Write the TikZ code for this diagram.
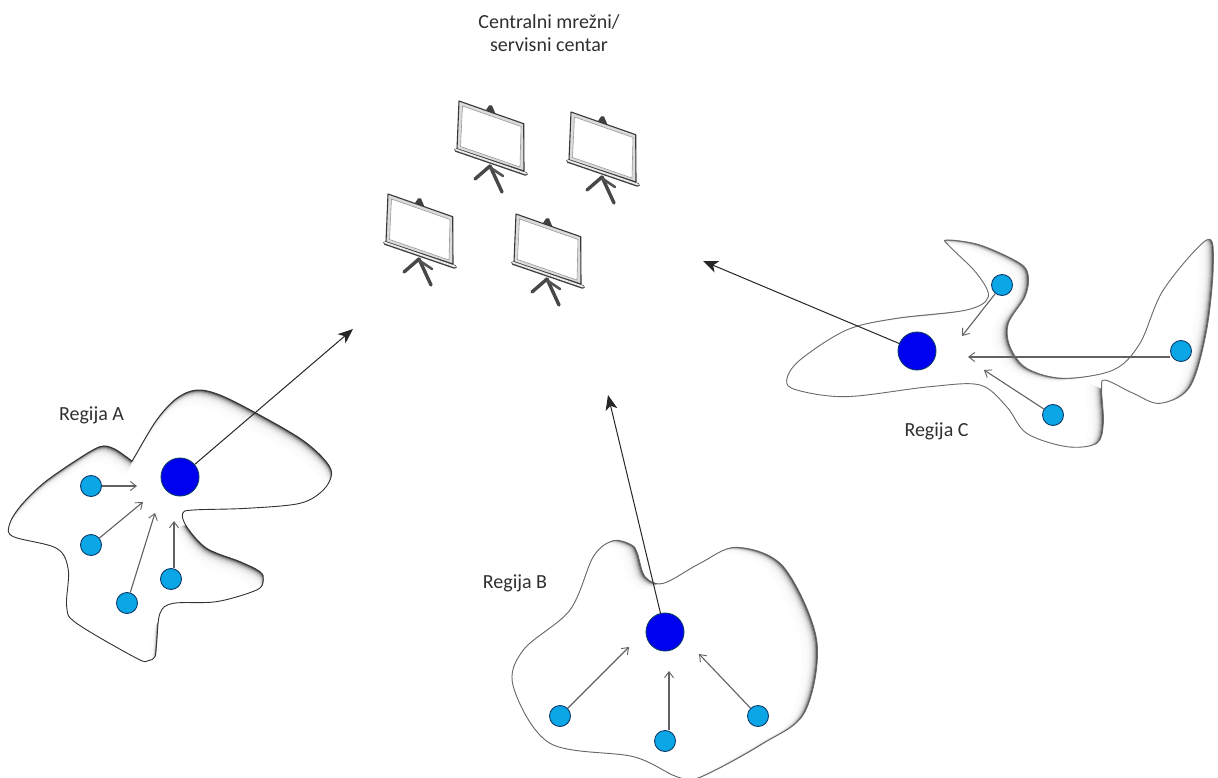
\documentclass[tikz,border=0pt]{standalone}
\usepackage{fontspec}
\setmainfont{Carlito}
\usetikzlibrary{arrows.meta}
\definecolor{hub}{HTML}{0000F0}
\definecolor{leaf}{HTML}{0BA6E6}
\definecolor{ringc}{HTML}{0A3A6A}
\definecolor{txt}{HTML}{303030}
\tikzset{
  x=1pt,y=-1pt,
  hubnode/.style={circle,draw=ringc,fill=hub,line width=.9pt,minimum size=38pt,inner sep=0pt},
  leafnode/.style={circle,draw=ringc,fill=leaf,line width=.9pt,minimum size=21pt,inner sep=0pt},
  bigarrow/.style={draw=black!85,line width=1pt,-{Stealth[length=15pt,width=12pt,inset=4pt]}},
  smallarrow/.style={draw=black!62,line width=1.1pt,-{Straight Barb[length=6pt,width=9pt,line width=.9pt]}},
  label/.style={font=\fontsize{20pt}{23pt}\selectfont,text=txt,align=center,inner sep=0pt},
  projector/.pic={
    \fill[black!75] (27,9) -- (30,4.5) -- (33,4.5) -- (37,14) -- cycle;
    \draw[line width=3.4pt,black!72,line cap=round] (31,65) -- (16,78);
    \draw[line width=3.4pt,black!72,line cap=round] (31,65) -- (43,91);
    \draw[line width=2.6pt,black!68,line cap=round] (32,67) -- (44,75);
    \draw[draw=black!78,line width=1.1pt,line join=round,fill=black!14] (0,0) -- (64.7,22.7) -- (65,70) -- (-2,48) -- cycle;
    \draw[draw=black!40,line width=.6pt,fill=white] (3.5,5) -- (62,25.5) -- (61,66) -- (1.5,45.5) -- cycle;
    \draw[line width=3.8pt,black!75,line cap=round] (-3,49) -- (67,73);
    \draw[line width=1.8pt,black!8,line cap=round] (-3,48.6) -- (67,72.6);
  }
}
\newcommand{\regionshape}[6]{%
% #1,#2 origin; #3,#4 glow shift; #5 edge colour; #6 coords
\begin{scope}[shift={(#1,#2)},x=.3333pt,y=-.3333pt]
  \begin{scope}
    \clip plot[smooth cycle,tension=.55] coordinates {#6};
    \fill[black!72] (-200,-200) rectangle (1600,1200);
    \foreach \k in {1,...,14}{
      \fill[white,opacity=.33,xshift=\k*#3*1.7pt,yshift=-\k*#4*1.7pt]
        plot[smooth cycle,tension=.55] coordinates {#6};
    }
    \fill[white,xshift=15*#3*1.7pt,yshift=-15*#4*1.7pt]
        plot[smooth cycle,tension=.55] coordinates {#6};
  \end{scope}
  \draw[#5,line width=.9pt] plot[smooth cycle,tension=.55] coordinates {#6};
\end{scope}}
\begin{document}
\begin{tikzpicture}
\useasboundingbox (0,0) rectangle (1218,778);
\fill[white] (0,0) rectangle (1218,778);

% regions
\regionshape{0}{380}{-.25}{.6}{black!80}{(384,234) (396,243) (404,230) (470,120) (530,55) (590,30) (660,45) (770,100) (900,175) (970,235) (995,280) (970,330) (900,370) (740,385) (580,390) (548,400) (560,440) (620,505) (720,545) (780,575) (790,600) (770,630) (650,665) (520,670) (480,700) (470,790) (465,830) (445,842) (410,835) (230,730) (200,680) (205,570) (170,505) (40,470) (28,435) (60,380) (130,310) (230,240) (300,200) (340,205)}
\regionshape{500}{530}{-.6}{.2}{black!60}{(395,45) (412,70) (435,140) (490,160) (600,100) (710,52) (850,110) (950,330) (915,545) (790,640) (600,742) (530,740) (400,680) (150,640) (40,470) (70,360) (210,240) (280,80) (340,32)}
\regionshape{780}{230}{-.6}{.15}{black!58}{(500,30) (600,45) (720,100) (745,140) (735,200) (685,280) (690,350) (740,415) (850,445) (1000,420) (1080,340) (1150,180) (1280,30) (1300,100) (1280,300) (1230,470) (1140,520) (1060,490) (975,450) (965,480) (970,580) (950,640) (860,650) (740,610) (680,530) (600,465) (450,470) (200,500) (50,480) (20,450) (60,390) (200,300) (350,265) (560,240) (625,200) (590,130) (510,50)}

% projectors
\pic at (459,101) {projector};
\pic at (571,112) {projector};
\pic at (388,194) {projector};
\pic at (516,214) {projector};

% labels
\node[label] (title) at (549,33) {Centralni mrežni/\\servisni centar};
\node[label] (la) at (91.5,415) {Regija A};
\node[label] (lb) at (515,583) {Regija B};
\node[label] (lc) at (936.5,431) {Regija C};

% nodes
\node[hubnode] (A) at (180,477) {};
\node[leafnode] (a1) at (91,486) {};
\node[leafnode] (a2) at (91,545) {};
\node[leafnode] (a3) at (127,603) {};
\node[leafnode] (a4) at (171,579) {};
\node[hubnode] (B) at (665,632) {};
\node[leafnode] (b1) at (560,716) {};
\node[leafnode] (b2) at (665,741) {};
\node[leafnode] (b3) at (758,716) {};
\node[hubnode] (C) at (917,351) {};
\node[leafnode] (c1) at (1002,285) {};
\node[leafnode] (c2) at (1181,351) {};
\node[leafnode] (c3) at (1053,415) {};

% free ends
\coordinate (Ae) at (353,329);
\coordinate (Be) at (608,395);
\coordinate (Ce) at (703,261);
\coordinate (a1e) at (137,486);
\coordinate (a2e) at (143,502);
\coordinate (a3e) at (155,513);
\coordinate (a4e) at (174,521);
\coordinate (b1e) at (629,647);
\coordinate (b2e) at (669,671);
\coordinate (b3e) at (699,654);
\coordinate (c1e) at (962,336);
\coordinate (c2e) at (968,357);
\coordinate (c3e) at (984,370);

% connectors
\draw[bigarrow] (A) -- (Ae);
\draw[bigarrow] (B) -- (Be);
\draw[bigarrow] (C) -- (Ce);
\draw[smallarrow] (a1) -- (a1e);
\draw[smallarrow] (a2) -- (a2e);
\draw[smallarrow] (a3) -- (a3e);
\draw[smallarrow] (a4.north -| a4e) -- (a4e);
\draw[smallarrow] (b1) -- (b1e);
\draw[smallarrow] (b2.north -| b2e) -- (b2e);
\draw[smallarrow] (b3) -- (b3e);
\draw[smallarrow] (c1) -- (c1e);
\draw[smallarrow] (c2.west |- c2e) -- (c2e);
\draw[smallarrow] (c3) -- (c3e);
\end{tikzpicture}
\end{document}
